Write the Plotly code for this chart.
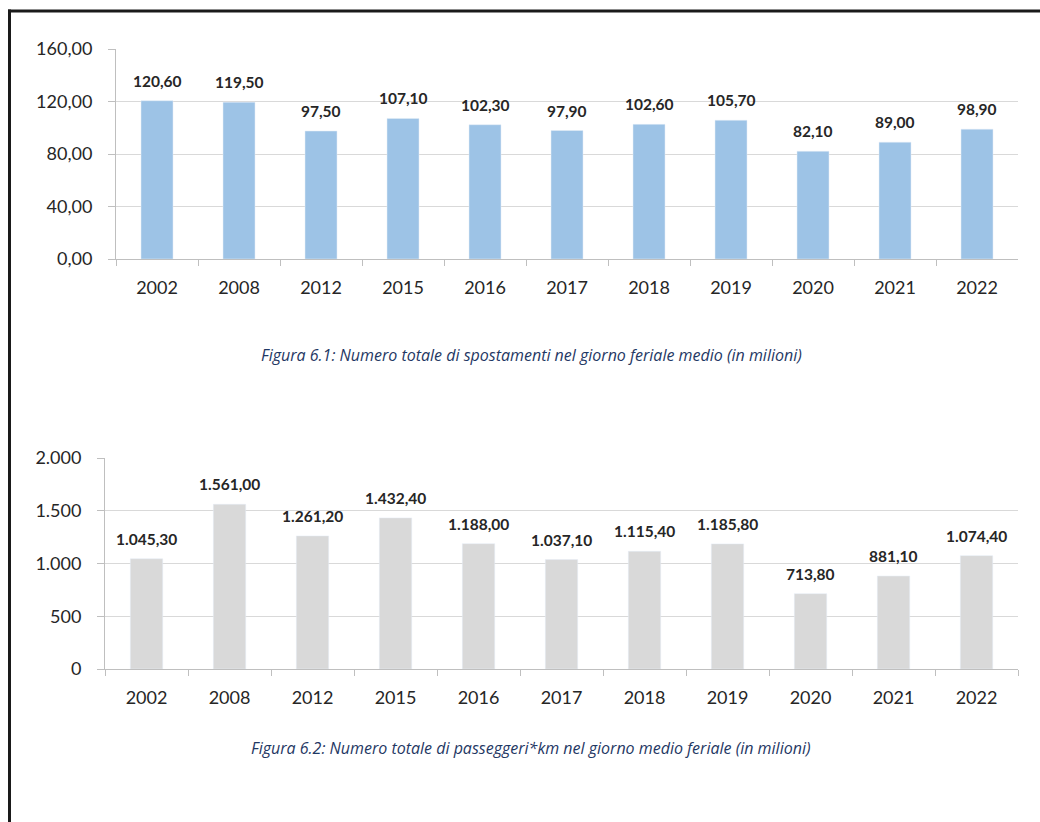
import plotly.graph_objects as go

years = ["2002", "2008", "2012", "2015", "2016", "2017", "2018", "2019", "2020", "2021", "2022"]
spostamenti = [120.60, 119.50, 97.50, 107.10, 102.30, 97.90, 102.60, 105.70, 82.10, 89.00, 98.90]
passeggeri_km = [1045.30, 1561.00, 1261.20, 1432.40, 1188.00, 1037.10, 1115.40, 1185.80, 713.80, 881.10, 1074.40]
caption1 = "Figura 6.1: Numero totale di spostamenti nel giorno feriale medio (in milioni)"
caption2 = "Figura 6.2: Numero totale di passeggeri*km nel giorno medio feriale (in milioni)"

W, H = 1040, 822
FONT = "Lato"
TXT = "#262626"
GRID = "#D9D9D9"
AX = "#BFBFBF"


def px_x(p):
    return p / W


def px_y(p):
    return 1 - p / H


def it_fmt(v):
    s = f"{v:,.2f}"
    return s.replace(",", "X").replace(".", ",").replace("X", ".")


fig = go.Figure()
fig.add_trace(go.Bar(x=years, y=spostamenti, marker_color="#9DC3E6", width=0.39,
                     xaxis="x", yaxis="y", hoverinfo="skip"))
fig.add_trace(go.Bar(x=years, y=passeggeri_km, marker_color="#D9D9D9", width=0.39,
                     xaxis="x2", yaxis="y2", hoverinfo="skip"))

xcommon = dict(type="category", showgrid=False, showline=True, linecolor=AX, linewidth=1,
               ticks="outside", tickson="boundaries", ticklen=6, tickcolor=AX,
               tickfont=dict(family=FONT, size=18, color=TXT), ticklabelstandoff=12,
               tickangle=0, automargin=False, fixedrange=True)
ycommon = dict(showgrid=True, gridcolor=GRID, gridwidth=1, showline=True, linecolor=AX,
               linewidth=1, ticks="outside", ticklen=7, tickcolor=AX, zeroline=False,
               tickfont=dict(family=FONT, size=18, color=TXT), ticklabelstandoff=12,
               automargin=False, fixedrange=True)

annotations = []
for xr, yr, vals in (("x", "y", spostamenti), ("x2", "y2", passeggeri_km)):
    for i, v in enumerate(vals):
        annotations.append(dict(text="<b>" + it_fmt(v) + "</b>", x=i, y=v, xref=xr, yref=yr,
                                showarrow=False, yanchor="bottom", yshift=9,
                                font=dict(family=FONT, size=15.5, color=TXT)))
annotations += [
    dict(text="<i>" + caption1 + "</i>", x=px_x(531), y=px_y(355), xref="paper", yref="paper",
         showarrow=False, font=dict(family="Open Sans", size=16, color="#1F3864")),
    dict(text="<i>" + caption2 + "</i>", x=px_x(531), y=px_y(761), xref="paper", yref="paper",
         showarrow=False, font=dict(family="Open Sans", size=16, color="#1F3864")),
]

fig.update_layout(
    width=W, height=H, margin=dict(l=0, r=0, t=0, b=0, autoexpand=False),
    paper_bgcolor="white", plot_bgcolor="white", showlegend=False,
    separators=",.", bargap=0.6,
    xaxis=dict(xcommon, domain=[px_x(116), px_x(1018)], anchor="y", range=[-0.5, 10.5]),
    yaxis=dict(ycommon, domain=[px_y(259), px_y(49)], anchor="x", range=[0, 160],
               dtick=40, tickformat=",.2f"),
    xaxis2=dict(xcommon, domain=[px_x(105), px_x(1018)], anchor="y2", range=[-0.5, 10.5]),
    yaxis2=dict(ycommon, domain=[px_y(669), px_y(458)], anchor="x2", range=[0, 2000],
                dtick=500, tickformat=",d"),
    annotations=annotations,
    shapes=[
        dict(type="line", xref="paper", yref="paper", x0=px_x(8), x1=1, y0=px_y(11), y1=px_y(11),
             line=dict(color="#1a1a1a", width=3)),
        dict(type="line", xref="paper", yref="paper", x0=px_x(9.5), x1=px_x(9.5), y0=px_y(9.5), y1=0,
             line=dict(color="#1a1a1a", width=3)),
    ],
)

fig.write_html("out.html", config={"displayModeBar": False},
               post_script="document.body.style.margin='0';document.documentElement.style.overflow='hidden';")
